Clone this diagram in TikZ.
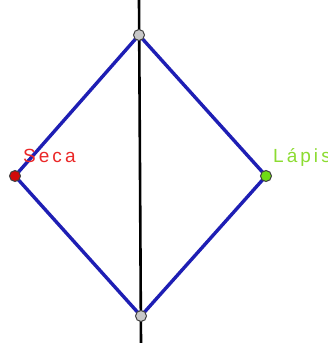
\documentclass[tikz,border=0pt]{standalone}
\usepackage{fontspec}
\setmainfont{Liberation Sans}
\newfontfamily\lblfont[LetterSpace=16]{Liberation Sans}
\definecolor{ggblue}{RGB}{30,30,180}
\definecolor{ptred}{RGB}{210,10,10}
\definecolor{ptgreen}{RGB}{110,220,20}
\definecolor{ptgray}{RGB}{200,200,200}
\definecolor{txtred}{RGB}{235,40,40}
\definecolor{txtgreen}{RGB}{140,220,50}
\tikzset{
  seg/.style={ggblue, line width=3.4pt},
  axisline/.style={black, line width=2.6pt},
  pt/.style={circle, draw=black!75, line width=1pt, minimum size=11pt, inner sep=0pt},
  lbl/.style={font=\lblfont\fontsize{19}{21}\selectfont, inner sep=0pt, anchor=base west}
}
\begin{document}
\begin{tikzpicture}[x=1pt,y=-1pt]
\useasboundingbox (0,0) rectangle (327,343);
\fill[white] (0,0) rectangle (327,343);
\coordinate (LT) at (139,0);
\coordinate (LB) at (141,343);
\draw[axisline] (LT) -- (LB);
\coordinate (T) at (139,35);
\coordinate (B) at (141,316);
\coordinate (L) at (15,176);
\coordinate (R) at (266,176);
\draw[seg] (T) -- (L) -- (B) -- (R) -- cycle;
\node[lbl, text=txtred] (seca) at (23,162) {Seca};
\node[lbl, text=txtgreen] (lapis) at (273,162) {Lápis};
\node[pt, fill=ptgray] (pT) at (T) {};
\node[pt, fill=ptgray] (pB) at (B) {};
\node[pt, fill=ptred] (pL) at (L) {};
\node[pt, fill=ptgreen] (pR) at (R) {};
\end{tikzpicture}
\end{document}
